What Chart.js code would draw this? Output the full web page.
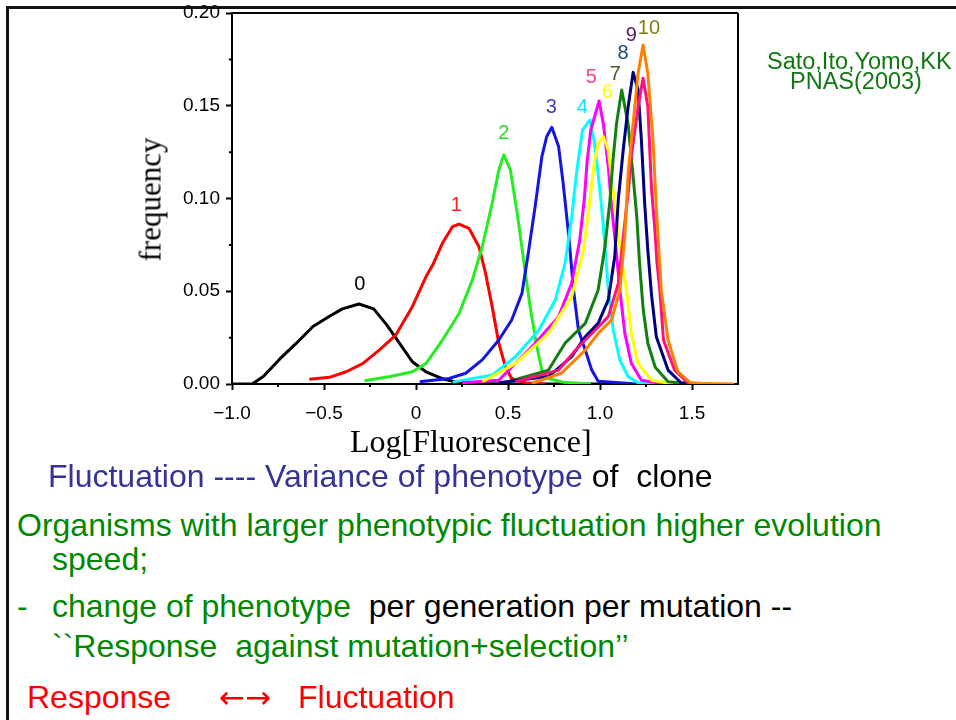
<!DOCTYPE html>
<html>
<head>
<meta charset="utf-8">
<script src="https://cdn.jsdelivr.net/npm/chart.js@4.4.1/dist/chart.umd.min.js"></script>
<style>
  html, body { margin: 0; background: #fff; }
  body { width: 956px; height: 720px; position: relative; overflow: hidden; font-family: "Liberation Sans", Arial, sans-serif; }
  #plot { position: absolute; left: 0; top: 0; }
  #frame { position: absolute; left: 6px; top: 6px; width: 980px; height: 740px; border-left: 3px solid #111; border-top: 3px solid #111; z-index: 3; }
  .t { position: absolute; white-space: pre; line-height: 1; z-index: 2; }
  .serif { font-family: "Liberation Serif", "Times New Roman", serif; font-size: 31px; color: #000; }
  .big { font-size: 32px; }
  .cite { font-size: 23.5px; color: #117711; }
  .blue { color: #333399; }
  .green { color: #008800; }
  .red { color: #ff0000; }
  .black { color: #000; }
  .arrows { font-family: "DejaVu Sans", sans-serif; font-size: 31px; }
</style>
</head>
<body>
<canvas id="plot" width="956" height="430"></canvas>
<div id="frame"></div>

<div class="t serif" style="left:50px; top:184px; width:200px; text-align:center; transform:rotate(-90deg);">frequency</div>
<div class="t serif" style="left:350px; top:425px; font-size:32px;">Log[Fluorescence]</div>

<div class="t cite" style="left:767px; top:50px;">Sato,Ito,Yomo,KK</div>
<div class="t cite" style="left:790px; top:70px;">PNAS(2003)</div>

<div class="t big" style="left:48px; top:460px;"><span class="blue">Fluctuation ---- Variance of phenotype</span><span class="black"> of  clone</span></div>
<div class="t big green" style="left:17px; top:509px;">Organisms with larger phenotypic fluctuation higher evolution</div>
<div class="t big green" style="left:52px; top:543px;">speed;</div>
<div class="t big green" style="left:17px; top:590px;">-</div>
<div class="t big" style="left:52px; top:590px;"><span class="green">change of phenotype</span><span class="black">  per generation per mutation --</span></div>
<div class="t big green" style="left:52px; top:630px;">``Response  against mutation+selection’’</div>
<div class="t big red" style="left:27px; top:681px;">Response</div>
<div class="t red arrows" style="left:219px; top:682px;">←→</div>
<div class="t big red" style="left:298px; top:681px;">Fluctuation</div>

<script>
// fluorescence distributions per generation: [log fluorescence, frequency]
const curve0 = [[-1.0, 0], [-0.89, 0], [-0.83, 0.004], [-0.74, 0.0135], [-0.65, 0.022], [-0.56, 0.031], [-0.47, 0.0365], [-0.40, 0.0405], [-0.31, 0.0431], [-0.23, 0.0405], [-0.16, 0.032], [-0.09, 0.022], [-0.02, 0.012], [0.054, 0.0066], [0.14, 0.003], [0.22, 0.001], [0.35, 0.0003], [0.5, 0], [1.0, 0]];
const curve1 = [[-0.58, 0.0025], [-0.47, 0.0036], [-0.38, 0.0066], [-0.29, 0.011], [-0.2, 0.0183], [-0.11, 0.0264], [-0.02, 0.0417], [0.054, 0.0578], [0.09, 0.064], [0.144, 0.076], [0.198, 0.0848], [0.234, 0.0862], [0.288, 0.0839], [0.342, 0.074], [0.378, 0.0597], [0.414, 0.0417], [0.45, 0.022], [0.486, 0.0093], [0.52, 0.003], [0.6, 0.0005], [0.7, 0]];
const curve2 = [[-0.28, 0.0018], [-0.14, 0.004], [-0.02, 0.0066], [0.054, 0.011], [0.144, 0.0237], [0.234, 0.038], [0.306, 0.056], [0.36, 0.074], [0.414, 0.0974], [0.45, 0.1154], [0.477, 0.1235], [0.513, 0.1154], [0.55, 0.092], [0.585, 0.0668], [0.62, 0.0417], [0.657, 0.0201], [0.684, 0.0075], [0.72, 0.003], [0.8, 0.001], [0.95, 0]];
const curve3 = [[0.02, 0.0012], [0.18, 0.003], [0.27, 0.0058], [0.36, 0.013], [0.45, 0.0237], [0.52, 0.0345], [0.576, 0.0489], [0.61, 0.0704], [0.65, 0.0974], [0.684, 0.1225], [0.71, 0.1333], [0.738, 0.1384], [0.775, 0.128], [0.8, 0.108], [0.83, 0.08], [0.856, 0.0507], [0.883, 0.029], [0.92, 0.0183], [0.955, 0.0075], [0.99, 0.0015], [1.2, 0]];
const curve4 = [[0.2, 0.001], [0.414, 0.0048], [0.54, 0.0147], [0.667, 0.029], [0.757, 0.0453], [0.81, 0.065], [0.846, 0.09], [0.874, 0.115], [0.905, 0.137], [0.946, 0.1423], [0.97, 0.13], [0.99, 0.113], [1.01, 0.094], [1.025, 0.077], [1.045, 0.0507], [1.072, 0.0291], [1.108, 0.0129], [1.153, 0.0039], [1.207, 0.0007], [1.3, 0]];
const curve5 = [[0.25, 0.0007], [0.45, 0.002], [0.63, 0.0201], [0.775, 0.0363], [0.846, 0.0543], [0.89, 0.0776], [0.915, 0.1], [0.93, 0.12], [0.95, 0.137], [0.995, 0.1526], [1.018, 0.1405], [1.045, 0.117], [1.063, 0.0956], [1.085, 0.075], [1.108, 0.0507], [1.135, 0.0273], [1.17, 0.0112], [1.225, 0.002], [1.35, 0]];
const curve6 = [[0.36, 0.0012], [0.54, 0.011], [0.72, 0.0273], [0.846, 0.047], [0.91, 0.0722], [0.946, 0.1], [0.97, 0.12], [0.99, 0.1297], [1.018, 0.1333], [1.045, 0.126], [1.07, 0.105], [1.095, 0.085], [1.12, 0.065], [1.144, 0.0507], [1.17, 0.0273], [1.207, 0.011], [1.28, 0.002], [1.4, 0]];
const curve7 = [[0.5, 0.0012], [0.72, 0.0075], [0.81, 0.022], [0.92, 0.0327], [0.99, 0.0507], [1.027, 0.074], [1.054, 0.099], [1.07, 0.12], [1.09, 0.1405], [1.118, 0.1585], [1.153, 0.14], [1.18, 0.112], [1.2, 0.09], [1.215, 0.065], [1.235, 0.04], [1.26, 0.022], [1.3, 0.009], [1.37, 0.0012], [1.5, 0]];
const curve8 = [[0.45, 0.0007], [0.72, 0.004], [0.846, 0.0147], [0.92, 0.0255], [0.99, 0.0327], [1.045, 0.0453], [1.08, 0.0686], [1.1, 0.1], [1.126, 0.126], [1.153, 0.1495], [1.18, 0.168], [1.207, 0.1585], [1.225, 0.1315], [1.243, 0.097], [1.26, 0.072], [1.28, 0.048], [1.306, 0.0255], [1.37, 0.0075], [1.44, 0.0007], [1.55, 0]];
const curve9 = [[0.54, 0.0012], [0.775, 0.0075], [0.883, 0.0201], [0.973, 0.029], [1.045, 0.0363], [1.1, 0.0543], [1.135, 0.087], [1.155, 0.105], [1.17, 0.1225], [1.207, 0.1495], [1.234, 0.1648], [1.26, 0.1495], [1.28, 0.105], [1.297, 0.085], [1.31, 0.065], [1.325, 0.0507], [1.345, 0.0237], [1.405, 0.0075], [1.477, 0.0007], [1.6, 0]];
const curve10 = [[0.63, 0.0004], [0.79, 0.0058], [0.92, 0.0183], [0.99, 0.0273], [1.063, 0.0345], [1.108, 0.0507], [1.135, 0.08], [1.153, 0.1136], [1.18, 0.1405], [1.207, 0.1675], [1.234, 0.1827], [1.26, 0.1675], [1.288, 0.1315], [1.306, 0.095], [1.333, 0.0507], [1.37, 0.0237], [1.423, 0.0066], [1.495, 0.0004], [1.73, 0]];

const curves = [curve0, curve1, curve2, curve3, curve4, curve5, curve6, curve7, curve8, curve9, curve10];
const genNames = ['0', '1', '2', '3', '4', '5', '6', '7', '8', '9', '10'];
const lineColors = ['#000000', '#ff0000', '#22ee22', '#1414e6', '#00ffff', '#ff00ff', '#ffff00', '#108010', '#000080', '#ff1080', '#ff8000'];
const tagColors = ['#000000', '#ff2020', '#22e022', '#4040c0', '#00e8f8', '#ff4090', '#ffff00', '#406020', '#204870', '#602060', '#808010'];

// where each generation number sits, in axis units
const tagX = [-0.306, 0.219, 0.477, 0.735, 0.904, 0.953, 1.04, 1.083, 1.126, 1.17, 1.266];
const tagY = [0.0534, 0.0965, 0.1353, 0.1488, 0.1488, 0.1655, 0.1569, 0.1666, 0.1784, 0.1881, 0.1919];

const xTicks = [-1.0, -0.5, 0, 0.5, 1.0, 1.5];

const tickFont = { family: '"Liberation Sans", Arial, sans-serif', size: 19, lineHeight: 1 };

// small in-between ticks plus the top/right box edges
const axisDeco = {
  id: 'axisDeco',
  afterDraw(chart) {
    const { ctx, chartArea: a, scales: { x, y } } = chart;
    ctx.save();
    ctx.strokeStyle = '#000';
    ctx.lineWidth = 2;
    ctx.beginPath();
    for (let i = 1; i < x.ticks.length; i++) {
      const px = x.getPixelForValue((x.ticks[i - 1].value + x.ticks[i].value) / 2);
      ctx.moveTo(px, a.bottom); ctx.lineTo(px, a.bottom + 3);
    }
    for (let i = 1; i < y.ticks.length; i++) {
      const py = y.getPixelForValue((y.ticks[i - 1].value + y.ticks[i].value) / 2);
      ctx.moveTo(a.left, py); ctx.lineTo(a.left - 3, py);
    }
    ctx.moveTo(a.left - 1, a.top); ctx.lineTo(a.right, a.top);
    ctx.moveTo(a.right, a.top); ctx.lineTo(a.right, a.bottom + 1);
    ctx.stroke();
    ctx.restore();
  }
};

const curveTags = {
  id: 'curveTags',
  afterDatasetsDraw(chart) {
    const { ctx, scales: { x, y } } = chart;
    ctx.save();
    ctx.font = '20px "Liberation Sans", Arial, sans-serif';
    ctx.textAlign = 'center';
    ctx.textBaseline = 'middle';
    genNames.forEach((name, i) => {
      ctx.fillStyle = tagColors[i];
      ctx.fillText(name, x.getPixelForValue(tagX[i]), y.getPixelForValue(tagY[i]));
    });
    ctx.restore();
  }
};

new Chart(document.getElementById('plot'), {
  type: 'line',
  data: {
    datasets: curves.map((pts, i) => ({
      label: genNames[i],
      data: pts.map(([x, y]) => ({ x, y })),
      borderColor: lineColors[i],
      borderWidth: 3,
      borderJoinStyle: 'round',
      pointRadius: 0,
      fill: false,
      tension: 0,
      order: curves.length - i
    }))
  },
  options: {
    responsive: false,
    animation: false,
    layout: { padding: { left: 172, right: 218, top: 13, bottom: 0 } },
    plugins: { legend: { display: false }, tooltip: { enabled: false } },
    scales: {
      x: {
        type: 'linear',
        min: -1,
        max: 1.75,
        afterBuildTicks: (s) => { s.ticks = xTicks.map((v) => ({ value: v })); },
        afterFit: (s) => { s.height = 46; s.paddingLeft = 0; s.paddingRight = 0; },
        border: { display: true, width: 2, color: '#000' },
        grid: { display: true, drawOnChartArea: false, drawTicks: true, tickLength: 6, tickWidth: 2, tickColor: '#000' },
        ticks: {
          color: '#000', font: tickFont, padding: 14, maxRotation: 0, autoSkip: false,
          callback: (v) => (v === 0 ? '0' : v.toFixed(1).replace('-', '\u2212'))
        }
      },
      y: {
        min: 0,
        max: 0.2,
        afterFit: (s) => { s.width = 60; s.paddingTop = 0; s.paddingBottom = 0; },
        border: { display: true, width: 2, color: '#000' },
        grid: { display: true, drawOnChartArea: false, drawTicks: true, tickLength: 6, tickWidth: 2, tickColor: '#000' },
        ticks: { color: '#000', font: tickFont, padding: 6, stepSize: 0.05, callback: (v) => v.toFixed(2) }
      }
    }
  },
  plugins: [axisDeco, curveTags]
});
</script>
</body>
</html>
